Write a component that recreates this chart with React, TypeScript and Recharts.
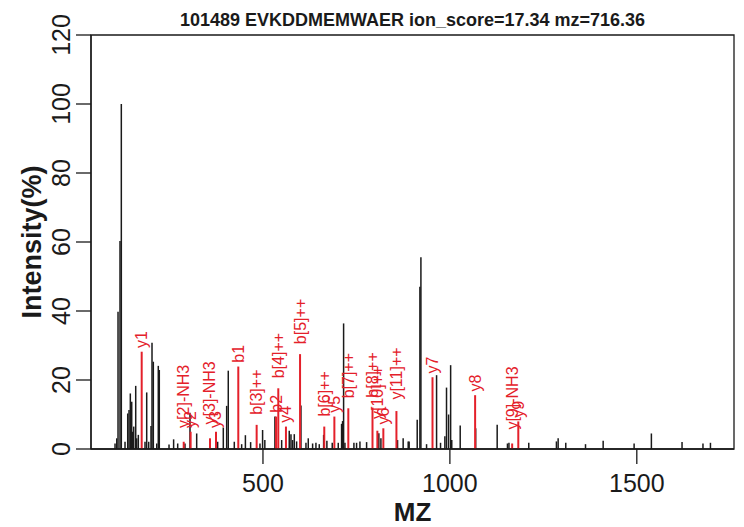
import React from 'react';
import { ComposedChart, XAxis, YAxis, ReferenceLine, ReferenceArea, Scatter } from 'recharts';

const title = '101489 EVKDDMEMWAER ion_score=17.34 mz=716.36';
const xTicks = [500, 1000, 1500];
const yTicks = [0, 20, 40, 60, 80, 100, 120];

const peakMz = [
  104.3, 108.8, 112.3, 117.6, 121.1, 131, 138.2, 141.7, 145.2, 148.9, 151.6, 154.3, 159.6, 162.3, 166.6,
  184.5, 189, 194.4, 200.5, 203.2, 206.7, 215.8, 220, 222.7, 248.7, 261, 271.9, 291.4, 304.8, 322.7,
  378.8, 393.9, 402.9, 407.2, 423.3, 443, 453, 467, 492, 499, 505, 532, 550, 570.3, 574.9, 579.3, 583.8,
  590, 601.6, 615, 621.2, 632.8, 641.7, 650.6, 662.3, 671, 685.3, 701.4, 710.3, 713, 715.7, 719.3,
  743.3, 750.4, 759.4, 777.2, 810, 815.5, 860, 875, 888.5, 891, 912.6, 919.8, 922.5, 937.6, 964.4,
  975, 986.6, 991, 996.5, 1002, 1005, 1027.6, 1069, 1126.5, 1154, 1158, 1211, 1285, 1289.6, 1310,
  1362.8, 1410, 1492.8, 1539, 1621, 1677, 1697,
];
const peakIntensity = [
  1.6, 3.1, 39.8, 60.3, 100, 2.1, 10.3, 11.3, 16.1, 13.7, 5, 6.5, 18.3, 3.1, 4.1,
  2.1, 16.4, 2.1, 6.7, 30.8, 25.3, 1.6, 24.1, 22.9, 1.3, 2.8, 1.6, 1.6, 10.5, 4.5,
  2.1, 6.2, 12.5, 22.7, 2.1, 1.4, 4, 2, 1.6, 5.5, 2.6, 9.4, 2.6, 5.3, 4.3, 2.6, 4.3,
  2.2, 12.6, 1.8, 3.1, 1.6, 1.8, 1.4, 4.1, 2.4, 1.8, 1.8, 7.3, 8.1, 36.4, 1.8,
  1.8, 1.8, 2.2, 2.0, 4.6, 3.1, 2.6, 3.1, 2.2, 2.2, 8.5, 47, 55.6, 1.4, 21.4,
  1.8, 3.7, 17.8, 10, 24.3, 2.6, 6.8, 6, 7, 1.6, 1.8, 1.8, 2.2, 3.1, 1.8,
  1.4, 2.4, 1.6, 4.5, 2.0, 1.6, 1.8,
];

const ionMz = [
  175.6, 288, 306.5, 358.3, 374.3, 434, 483.1, 535, 541, 561.5, 599.2, 664, 691, 728.3,
  793, 806, 822, 857, 953.5, 1067.5, 1166.6, 1183,
];
const ionIntensity = [
  28.2, 2.1, 5, 3.1, 5, 23.9, 7, 9.4, 17.6, 6.5, 27.5, 6.5, 9.4, 11.8,
  12, 5.3, 6, 11, 20.8, 15.6, 1.6, 8,
];
const ionLabels = [
  'y1', 'y[2]-NH3', 'y2', 'y[3]-NH3', 'y3', 'b1', 'b[3]++', 'b2', 'b[4]++', 'y4', 'b[5]++', 'b[6]++', 'y5', 'b[7]++',
  'b[8]++', 'y[10]++', 'y6', 'y[11]++', 'y7', 'y8', 'y[9]-NH3', 'y9',
];

const RED = '#e4202a';
const INK = '#1a1a1a';
const FONT = "'Liberation Sans', Arial, Helvetica, sans-serif";
const LABEL_SIZE = 16;

const ionData = ionMz.map((mz, i) => ({ mz, intensity: ionIntensity[i], label: ionLabels[i] }));

let measureCtx: CanvasRenderingContext2D | null = null;
function measure(text: string, size: number): number {
  try {
    if (!measureCtx) measureCtx = document.createElement('canvas').getContext('2d');
    if (measureCtx) {
      measureCtx.font = `${size}px ${FONT}`;
      return measureCtx.measureText(text).width;
    }
  } catch (e) {
    /* ignore */
  }
  return text.length * size * 0.55;
}

function IonLabel(props: any) {
  const { cx, cy, payload } = props;
  if (cx == null || cy == null) return <g />;
  const len = measure(payload.label, LABEL_SIZE);
  const x = cx + 5.5;
  const y = cy - 0.22 * len;
  return (
    <text
      x={x}
      y={y}
      transform={`rotate(-90 ${x} ${y})`}
      fill={RED}
      fontSize={LABEL_SIZE}
      fontFamily={FONT}
      textAnchor="start"
    >
      {payload.label}
    </text>
  );
}

function XTick(props: any) {
  const { x, y, payload } = props;
  return (
    <text x={x} y={y + 28} textAnchor="middle" fontSize={25} fontFamily={FONT} fill={INK}>
      {payload.value}
    </text>
  );
}

function YTick(props: any) {
  const { x, y, payload } = props;
  const bx = x - 6.5;
  return (
    <text
      x={bx}
      y={y}
      transform={`rotate(-90 ${bx} ${y})`}
      textAnchor="middle"
      fontSize={25}
      fontFamily={FONT}
      fill={INK}
    >
      {payload.value}
    </text>
  );
}

function XTitle(props: any) {
  const vb = props.viewBox || {};
  return (
    <text x={vb.x + vb.width / 2} y={vb.y + 72} textAnchor="middle" fontSize={26} fontWeight="bold" fontFamily={FONT} fill={INK}>
      MZ
    </text>
  );
}

function YTitle(props: any) {
  const vb = props.viewBox || {};
  const x = 41;
  const y = vb.y + vb.height / 2;
  return (
    <text
      x={x}
      y={y}
      transform={`rotate(-90 ${x} ${y})`}
      textAnchor="middle"
      fontSize={27}
      fontWeight="bold"
      fontFamily={FONT}
      fill={INK}
    >
      Intensity(%)
    </text>
  );
}

export default function App() {
  return (
    <div style={{ position: 'relative', width: 744, height: 527, background: '#fff' }}>
      <style>{'body{margin:0;background:#fff}'}</style>
      <div
        style={{
          position: 'absolute',
          left: 91,
          width: 643,
          top: 8,
          textAlign: 'center',
          fontFamily: FONT,
          fontWeight: 'bold',
          fontSize: 18,
          lineHeight: '24px',
          color: INK,
          whiteSpace: 'nowrap',
        }}
      >
        {title}
      </div>
      <ComposedChart width={744} height={527} margin={{ top: 35, right: 10, bottom: 0, left: 0 }} data={ionData}>
        <XAxis
          dataKey="mz"
          type="number"
          domain={[40, 1760]}
          allowDataOverflow
          ticks={xTicks}
          height={78}
          tickSize={15}
          tickMargin={0}
          tick={<XTick />}
          tickLine={{ stroke: INK, strokeWidth: 1.3 }}
          axisLine={{ stroke: INK, strokeWidth: 1.3 }}
          label={{ content: <XTitle /> } as any}
        />
        <YAxis
          type="number"
          domain={[0, 120]}
          allowDataOverflow
          ticks={yTicks}
          width={91}
          tickSize={15}
          tickMargin={0}
          tick={<YTick />}
          tickLine={{ stroke: INK, strokeWidth: 1.3 }}
          axisLine={{ stroke: INK, strokeWidth: 1.3 }}
          label={{ content: <YTitle /> } as any}
        />
        <ReferenceArea x1={40} x2={1760} y1={0} y2={120} fill="none" stroke={INK} strokeWidth={1.3} />
        {peakMz.map((mz, i) => (
          <ReferenceLine
            key={'p' + i}
            segment={[
              { x: mz, y: 0 },
              { x: mz, y: peakIntensity[i] },
            ]}
            stroke={INK}
            strokeWidth={1.5}
          />
        ))}
        {ionMz.map((mz, i) => (
          <ReferenceLine
            key={'r' + i}
            segment={[
              { x: mz, y: 0 },
              { x: mz, y: ionIntensity[i] },
            ]}
            stroke={RED}
            strokeWidth={2}
          />
        ))}
        <Scatter data={ionData} dataKey="intensity" shape={<IonLabel />} isAnimationActive={false} />
      </ComposedChart>
    </div>
  );
}
